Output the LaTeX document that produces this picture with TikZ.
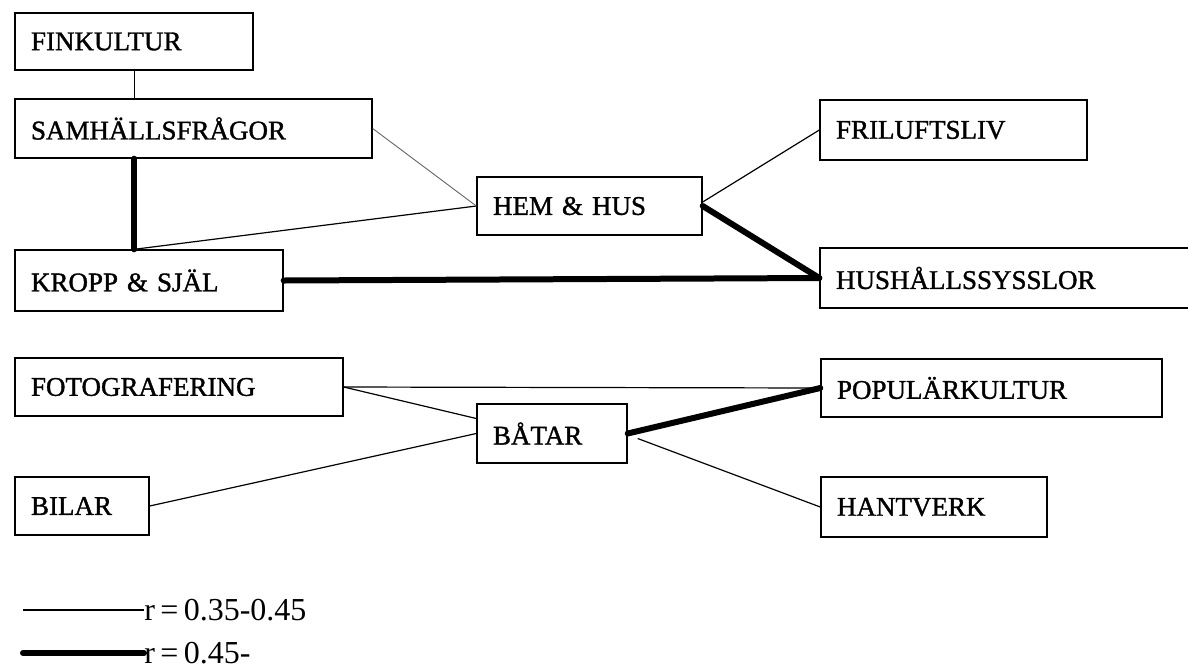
\documentclass[tikz,border=0pt]{standalone}
\usepackage{fontspec}
\newfontfamily\lblfont{Liberation Serif}[BoldFont=Liberation Serif, BoldFeatures={FakeBold=1.3}]
\newfontfamily\keyfont{Liberation Serif}
\begin{document}
\begin{tikzpicture}[x=0.5pt,y=-0.5pt,
  box/.style={draw, line width=0.7pt, rectangle, inner xsep=8pt, inner ysep=0pt,
    align=left, font=\lblfont\bfseries\fontsize{13.5pt}{16pt}\selectfont},
  weak/.style={line width=0.6pt},
  strong/.style={line width=3pt, line cap=round},
  faint/.style={line width=0.45pt, black!60},
  keytext/.style={anchor=west, inner sep=0pt, font=\keyfont\fontsize{16pt}{18pt}\selectfont}]
\useasboundingbox (0,0) rectangle (1188,670);
\clip (0,0) rectangle (1188,670);

% interest areas
\node[box, text width=103pt,   minimum height=28.5pt] (fin)  at (134,41.5)  {FINKULTUR};
\node[box, text width=162.5pt, minimum height=29.5pt] (sam)  at (193.5,128.5) {SAMHÄLLSFRÅGOR};
\node[box, text width=96.5pt,  minimum height=29pt]   (hem)  at (589.5,206) {HEM \& HUS};
\node[box, text width=117.5pt, minimum height=30pt]   (fri)  at (953.5,130) {FRILUFTSLIV};
\node[box, text width=118pt,   minimum height=30.5pt] (kro)  at (149,280.5) {KROPP \& SJÄL};
\node[box, text width=174pt,   minimum height=30pt]   (hus)  at (1010,278)  {HUSHÅLLSSYSSLOR};
\node[box, text width=148pt,   minimum height=29pt]   (foto) at (179,387)   {FOTOGRAFERING};
\node[box, text width=154.5pt, minimum height=29pt]   (pop)  at (991.5,388) {POPULÄRKULTUR};
\node[box, text width=59pt,    minimum height=29.5pt] (bat)  at (552,433.5) {BÅTAR};
\node[box, text width=51pt,    minimum height=29pt]   (bil)  at (82,506)    {BILAR};
\node[box, text width=97pt,    minimum height=30pt]   (han)  at (934,507)   {HANTVERK};

% correlations r = 0.35-0.45
\draw[weak] ([xshift=60pt]fin.south west) -- ([xshift=60pt]sam.north west);
\draw[weak] ([xshift=60pt]kro.north west) -- (hem.west);
\draw[faint] (sam.east) -- (hem.west);
\draw[weak] ([yshift=2pt]hem.east) -- (fri.west);
\draw[weak] (foto.east) -- (pop.west);
\draw[weak] (foto.east) -- ([yshift=7.5pt]bat.west);
\draw[weak] (bil.east) -- (bat.west);
\draw[weak] ([xshift=5pt,yshift=-2.5pt]bat.east) -- (han.west);

% correlations r = 0.45-
\draw[strong] ([xshift=60pt]sam.south west) -- ([xshift=60pt]kro.north west);
\draw[strong] (kro.east) -- (hus.west);
\draw[strong] (hem.east) -- (hus.west);
\draw[strong] (bat.east) -- (pop.west);

% key
\coordinate (k1) at (23,610);
\coordinate (k2) at (23,653);
\node[keytext] (t1) at (144,610) {r\,=\,0.35-0.45};
\node[keytext] (t2) at (144,653) {r\,=\,0.45-};
\draw[weak] (k1) -- (t1.west);
\draw[strong] (k2) -- (t2.west);
\end{tikzpicture}
\end{document}
